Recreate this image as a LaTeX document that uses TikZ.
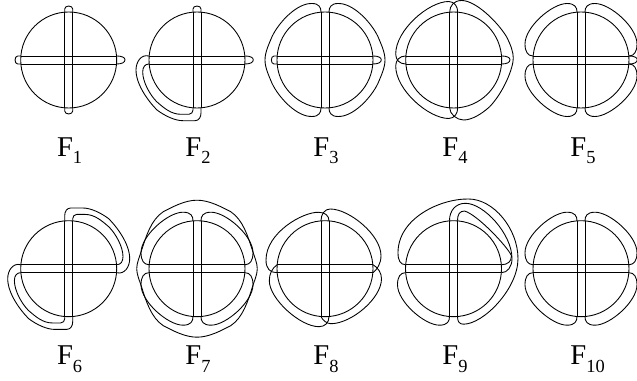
\documentclass[tikz,border=0pt]{standalone}
\usepackage{fontspec}
\setmainfont{Liberation Serif}
\tikzset{
  curve/.style={line width=0.5pt,line join=round},
  figlabel/.style={anchor=base west,inner sep=0pt,font=\fontsize{16.3}{18}\selectfont},
}
\newcommand{\flabel}[1]{F\lower4pt\hbox{\fontsize{10.5}{12}\selectfont #1}}
% Circle with the two bars
\newcommand{\basefig}{
  \draw[curve] (0,0) circle (48);
  \draw[curve] (-47.8,4) -- (47.8,4);
  \draw[curve] (-47.8,-4) -- (47.8,-4);
  \draw[curve] (-4,47.8) -- (-4,-47.8);
  \draw[curve] (4,47.8) -- (4,-47.8);
}
% Short caps on the bar ends
\newcommand{\capup}{\draw[curve] (-4,47.8) -- (-4,51) arc (180:0:4 and 3) -- (4,47.8);}
\newcommand{\capdown}{\draw[curve] (-4,-47.8) -- (-4,-51) arc (180:360:4 and 3) -- (4,-47.8);}
\newcommand{\capleft}{\draw[curve] (-48,4) -- (-51,4) .. controls (-54.5,4) and (-54.5,-4) .. (-51,-4) -- (-48,-4);}
\newcommand{\capright}{\draw[curve] (48,4) .. controls (53,4) and (56.3,2.5) .. (56.3,0.3) .. controls (56.3,-2.5) and (53,-4) .. (48,-4);}
% Lobe between neighbouring bar ends, drawn upper left
\newcommand{\lobe}[1]{\draw[curve,#1] (-4,48) .. controls (-4,52.5) and (-6,56.5) .. (-14,56.5)
  .. controls (-29,56.5) and (-56,33) .. (-56,16) .. controls (-56,8) and (-53,4) .. (-48,4);}
% The same, with its two ends crossed over
\newcommand{\crosslobe}[1]{\draw[curve,#1] (4,48) .. controls (4,53) and (1,58.5) .. (-5,58.5)
  .. controls (-25,58.5) and (-58,30) .. (-58,6) .. controls (-58,0) and (-54,-4) .. (-48,-4);}
% Large lobe round the left side, one half
\newcommand{\widelobe}[1]{\draw[curve,#1] (-4,48) .. controls (-4,52.5) and (-6,56.5) .. (-13,56.5)
  .. controls (-28,57) and (-46,38) .. (-53,23.3) .. controls (-56,16) and (-60,8) .. (-60,0);}
% Quarter of the outer ring
\newcommand{\ringpart}[1]{\draw[curve,#1] (0,68.5) .. controls (-12,68.5) and (-24,62) .. (-33.7,57)
  .. controls (-46,49) and (-51,32) .. (-55.3,18.7) .. controls (-57,13) and (-60.3,6) .. (-60.3,0);}
% Double band round the lower left
\newcommand{\band}[1]{
  \draw[curve,#1] (-48,4) .. controls (-56,6) and (-61,-2) .. (-61,-10) .. controls (-61,-25) and (-48,-42) .. (-40,-50)
    .. controls (-32,-56) and (-22,-60.7) .. (-14,-60.7) -- (-2,-60.7) .. controls (2,-60.7) and (4,-57) .. (4,-53) -- (4,-48);
  \draw[curve,#1] (-48,-4) .. controls (-52,-4) and (-54.3,-7) .. (-54.3,-12) .. controls (-54.3,-22) and (-47,-35) .. (-40.3,-41.7)
    .. controls (-33,-48) and (-26,-54.3) .. (-16,-54.3) -- (-8,-54.3) .. controls (-5.5,-54.3) and (-4,-52) .. (-4,-50) -- (-4,-48);
}
\begin{document}
\begin{tikzpicture}[x=0.02cm,y=0.02cm]
  \useasboundingbox (0,0) rectangle (637,-381);
  % F1
  \begin{scope}[shift={(68.7,-60)}]
    \basefig \capup \capdown \capleft \capright
  \end{scope}
  % F2
  \begin{scope}[shift={(197,-60)}]
    \basefig \capup \capright \band{}
  \end{scope}
  % F3
  \begin{scope}[shift={(325,-60)}]
    \basefig \capleft \capright
    \widelobe{} \widelobe{xscale=-1} \widelobe{yscale=-1} \widelobe{scale=-1}
  \end{scope}
  % F4
  \begin{scope}[shift={(453.7,-60)}]
    \basefig \capright \crosslobe{} \crosslobe{yscale=-1}
    \draw[curve] (-4,48) .. controls (-4,54) and (0,59.5) .. (8,59.5) .. controls (22,59.5) and (44,38) .. (53,23)
      .. controls (57,15) and (59.6,8) .. (59.6,2) .. controls (59.6,-8) and (50,-32) .. (36,-46.7)
      .. controls (28,-54) and (18,-60) .. (10,-60) .. controls (3,-60) and (-4,-54) .. (-4,-48);
  \end{scope}
  % F5
  \begin{scope}[shift={(581,-60)}]
    \basefig \capright \lobe{} \lobe{xscale=-1} \lobe{yscale=-1} \lobe{scale=-1}
  \end{scope}
  % F6
  \begin{scope}[shift={(68.7,-268.7)}]
    \basefig \band{} \band{scale=-1}
  \end{scope}
  % F7
  \begin{scope}[shift={(197,-268.7)}]
    \basefig \lobe{} \lobe{xscale=-1} \lobe{yscale=-1} \lobe{scale=-1}
    \ringpart{} \ringpart{xscale=-1} \ringpart{yscale=-1} \ringpart{scale=-1}
  \end{scope}
  % F8
  \begin{scope}[shift={(325,-268.7)}]
    \basefig
    \draw[curve] (4,48) .. controls (4,53) and (0,56.4) .. (-6.3,56.4) .. controls (-22,57) and (-59,36) .. (-59,8.7) .. controls (-59,0) and (-55,-4) .. (-48,-4);
    \draw[curve] (-4,48) .. controls (-4,55) and (0,59.7) .. (5.3,59.7) .. controls (24,59.7) and (56,34) .. (56,13) .. controls (56,5) and (52,-1) .. (48,-4);
    \draw[curve] (-48,4) .. controls (-53,0) and (-55.7,-5) .. (-55.7,-12) .. controls (-55.7,-30) and (-25,-58) .. (-6,-58) .. controls (0,-58) and (4,-54) .. (4,-48);
    \draw[curve] (-4,-48) .. controls (-2,-52) and (2,-55) .. (6,-55) .. controls (26,-55) and (56.5,-30) .. (56.5,-10) .. controls (56.5,-4) and (53,1) .. (48,4);
  \end{scope}
  % F9
  \begin{scope}[shift={(453.5,-268.7)}]
    \basefig \lobe{yscale=-1}
    \draw[curve] (-4,48) .. controls (-4,58) and (2,65.4) .. (12,65.4) .. controls (30,65.4) and (58.5,35) .. (58.5,10) .. controls (58.5,2) and (54,-4) .. (48,-4);
    \draw[curve] (4,48) .. controls (4,54) and (6,57.7) .. (11,57.7) .. controls (24,54) and (54,22) .. (58,13) .. controls (58,7) and (54,4) .. (48,4);
    \draw[curve] (4,-48) .. controls (4,-53) and (6,-55.5) .. (10,-55.5) .. controls (30,-55.5) and (64.5,-20) .. (64.5,10)
      .. controls (64.5,40) and (40,69.7) .. (15,69.7) .. controls (-14,70) and (-55.5,50) .. (-55.5,16) .. controls (-55.5,8) and (-53,4) .. (-48,4);
  \end{scope}
  % F10
  \begin{scope}[shift={(581,-268.7)}]
    \basefig \lobe{} \lobe{xscale=-1} \lobe{yscale=-1} \lobe{scale=-1}
  \end{scope}
  % Labels
  \foreach \n/\xl/\yl in {1/56.7/156.7,2/185/156.7,3/313/156.7,4/442/156.7,5/570/156.7,
                          6/56.7/365,7/185/365,8/313/365,9/442/365,10/570/365}
    \node[figlabel] (label\n) at (\xl,-\yl) {\flabel{\n}};
\end{tikzpicture}
\end{document}
